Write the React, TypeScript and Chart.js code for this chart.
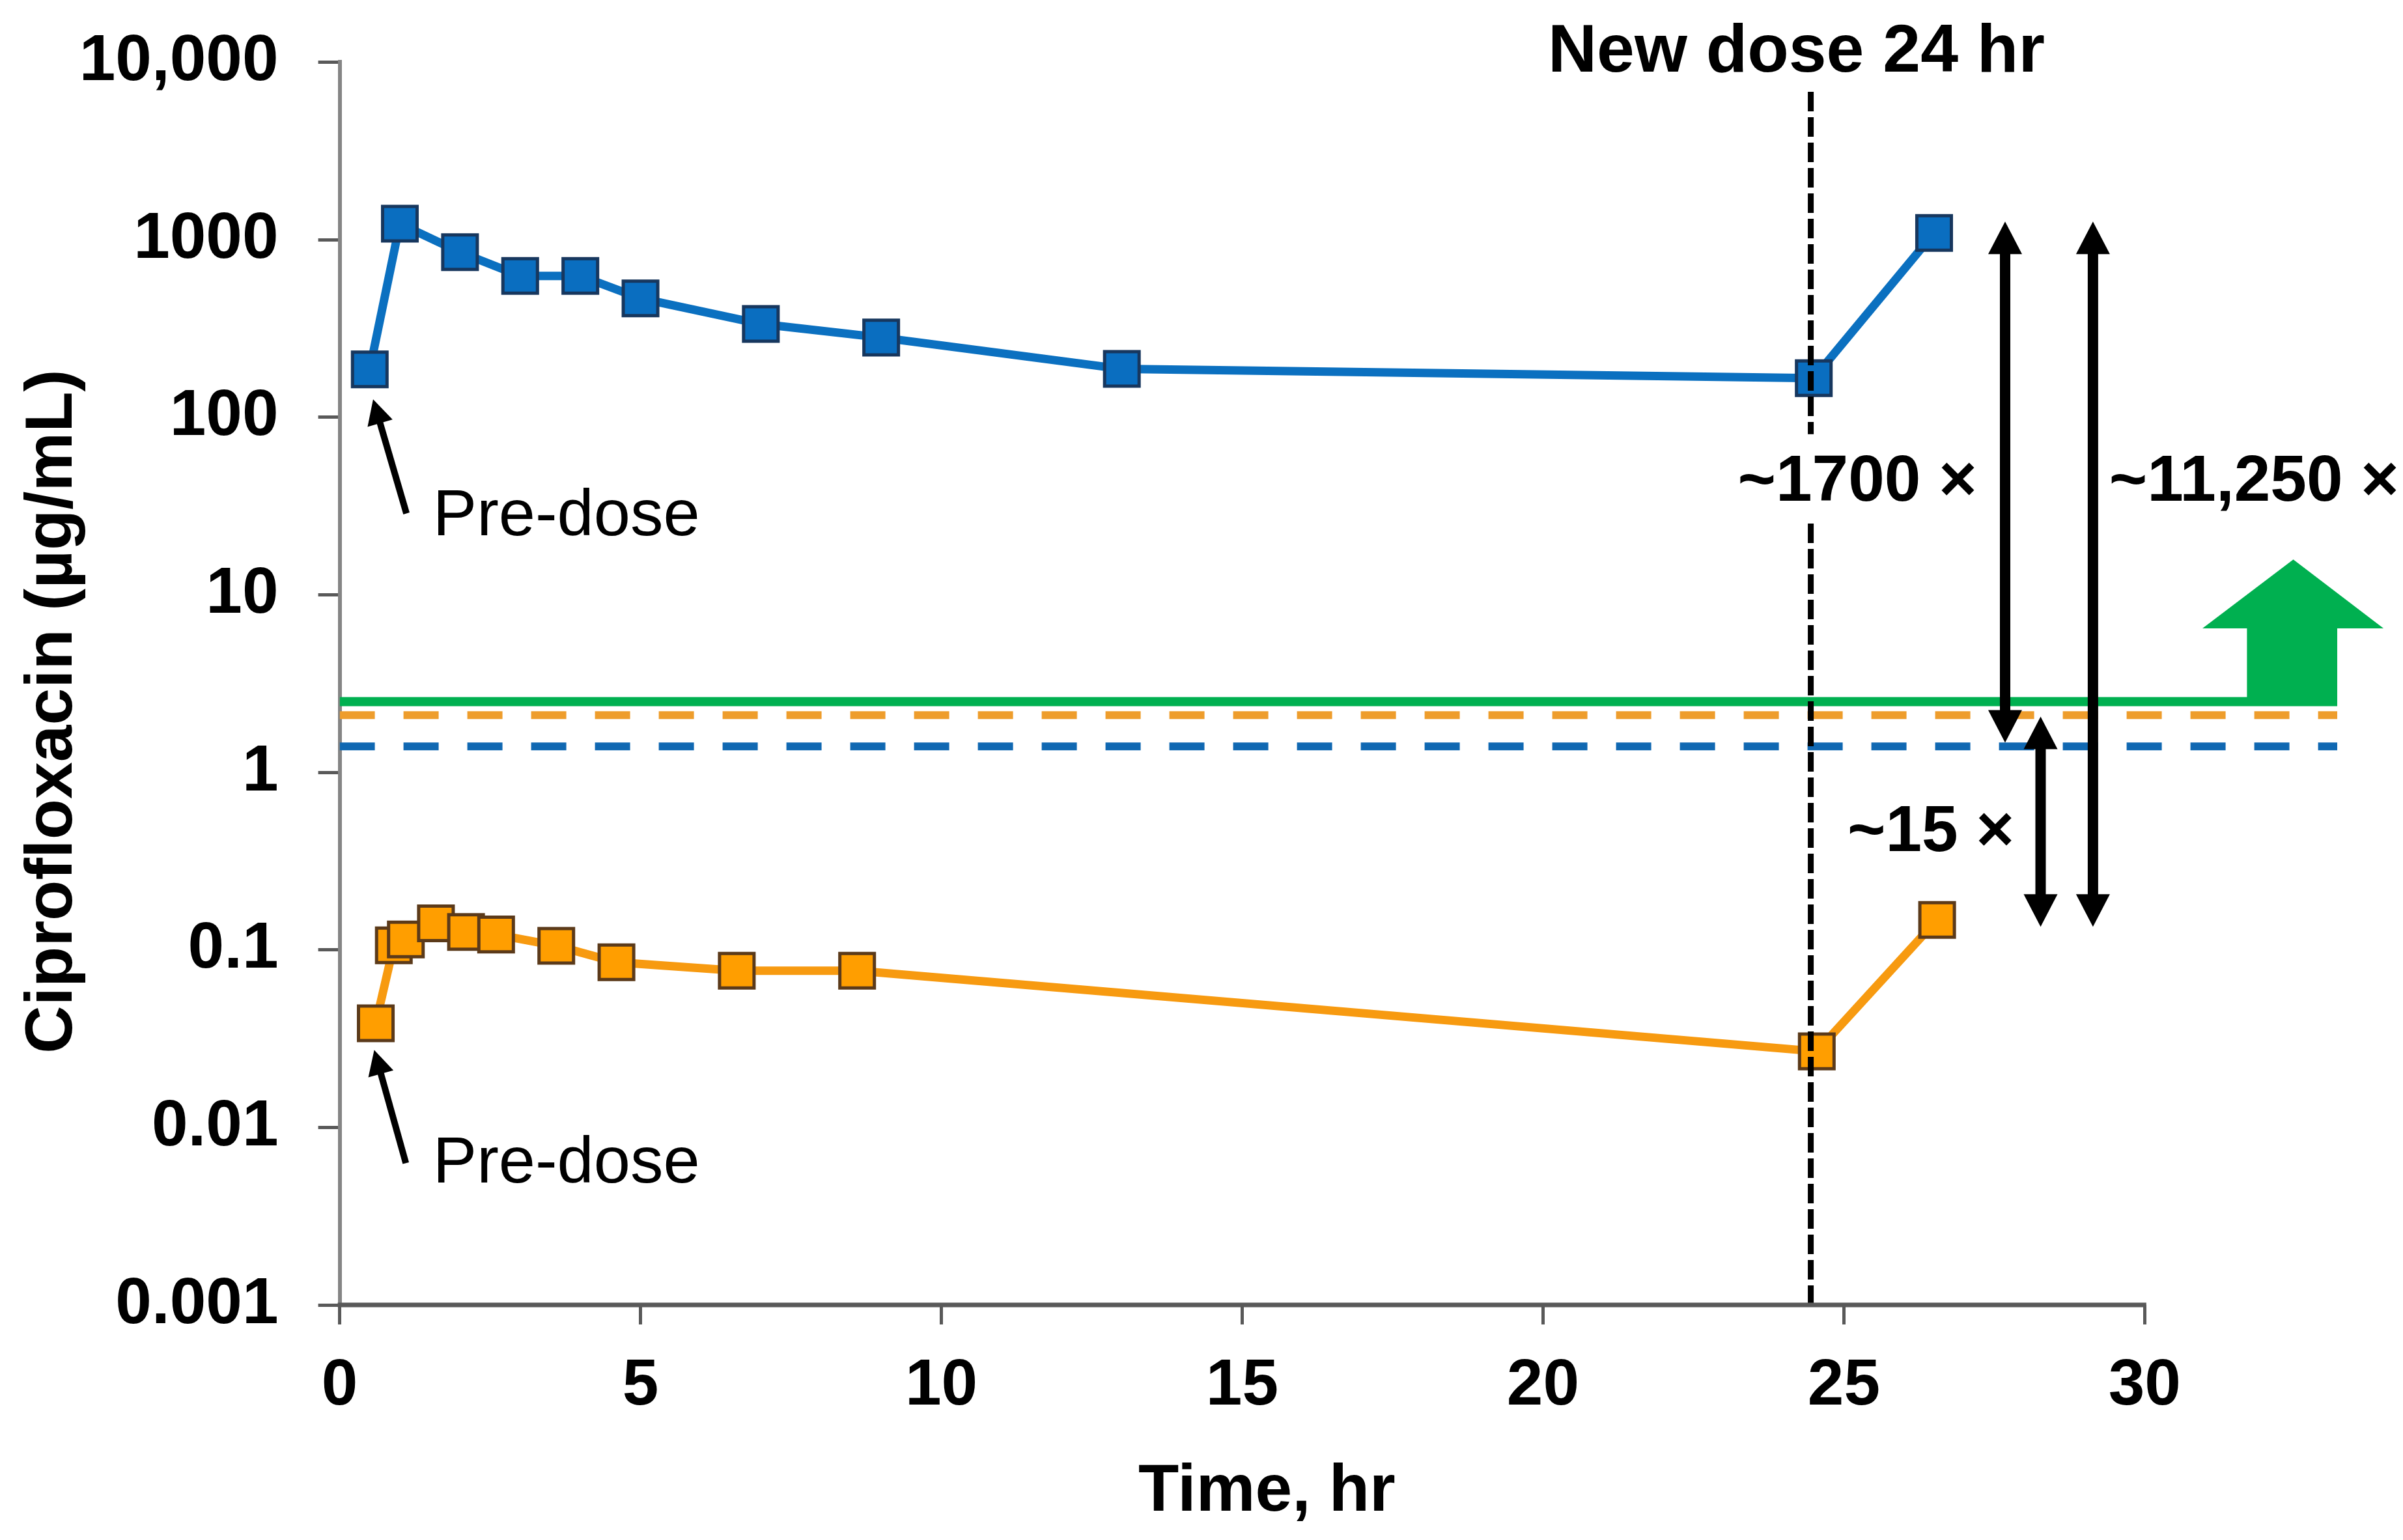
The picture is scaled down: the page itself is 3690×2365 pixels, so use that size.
import React, { useEffect, useRef } from 'react';
import { Chart, registerables } from 'chart.js';

Chart.register(...registerables);

const FONT = '"Liberation Sans", Arial, Helvetica, sans-serif';

// ---- data ----
const blueTime = [0.5, 1, 2, 3, 4, 5, 7, 9, 13, 24.5, 26.5];
const blueConc = [186, 1230, 850, 625, 625, 467, 335, 281, 187, 166, 1090];

const orangeTime = [0.6, 0.9, 1.1, 1.6, 2.1, 2.6, 3.6, 4.6, 6.6, 8.6, 24.55, 26.55];
const orangeConc = [0.0386, 0.106, 0.1145, 0.141, 0.126, 0.122, 0.1054, 0.0851, 0.0763, 0.0763, 0.0268, 0.1475];

const xTicks = [0, 5, 10, 15, 20, 25, 30];
const yTicks = [0.001, 0.01, 0.1, 1, 10, 100, 1000, 10000];
const yTickLabels = ['0.001', '0.01', '0.1', '1', '10', '100', '1000', '10,000'];

const xRange = [0, 33.2];
const yRange = [0.001, 10000];

const greenLevel = 2.5;
const orangeThreshold = 2.1;
const blueThreshold = 1.4;

const newDoseTime = 24.45;
const newDoseTop = 7300;

// fold-difference arrows
const foldArrowX = [27.68, 29.14, 28.27];
const foldArrowTop = [1264, 1264, 2.06];
const foldArrowBottom = [1.47, 0.135, 0.135];
const foldLabels = ['~1700 ×', '~11,250 ×', '~15 ×'];

// green block arrow outline (time, concentration)
const greenArrowX = [31.7, 33.2, 33.2, 33.97, 32.47, 30.96, 31.7];
const greenArrowY = [2.5, 2.5, 6.47, 6.47, 15.8, 6.47, 6.47];

// pre-dose pointer arrows: tail -> tip
const preDoseTailX = [1.11, 1.1];
const preDoseTailY = [28.7, 0.00629];
const preDoseTipX = [0.556, 0.574];
const preDoseTipY = [126, 0.0273];

// text anchors (time, concentration)
const preDoseLabelX = [1.55, 1.55];
const preDoseLabelY = [21.7, 0.0049];
const newDoseLabel = 'New dose 24 hr';
const newDoseLabelX = 24.21;
const newDoseLabelY = 8825;
const foldLabelX = [27.21, 29.41, 27.83];
const foldLabelY = [33.9, 33.9, 0.361];
const foldLabelAlign: CanvasTextAlign[] = ['right', 'left', 'right'];

const xTitle = 'Time, hr';
const yTitle = 'Ciprofloxacin (µg/mL)';

function drawArrowHead(ctx: CanvasRenderingContext2D, x: number, y: number, ang: number, len: number, w: number) {
  ctx.save();
  ctx.translate(x, y);
  ctx.rotate(ang);
  ctx.beginPath();
  ctx.moveTo(0, 0);
  ctx.lineTo(-len, -w / 2);
  ctx.lineTo(-len, w / 2);
  ctx.closePath();
  ctx.fill();
  ctx.restore();
}

const overlayPlugin = {
  id: 'overlay',
  afterDatasetsDraw(chart: any) {
    const ctx: CanvasRenderingContext2D = chart.ctx;
    const xs = chart.scales.x;
    const ys = chart.scales.y;
    const px = (v: number) => xs.getPixelForValue(v);
    const py = (v: number) => ys.getPixelForValue(v);
    const area = chart.chartArea;
    ctx.save();

    // x axis line (0..30)
    ctx.strokeStyle = '#595959';
    ctx.lineWidth = 7;
    ctx.beginPath();
    ctx.moveTo(px(0) - 3, area.bottom);
    ctx.lineTo(px(30) + 2.5, area.bottom);
    ctx.stroke();

    // green block arrow
    ctx.fillStyle = '#00B050';
    ctx.beginPath();
    greenArrowX.forEach((gx, i) => {
      const X = px(gx);
      let Y = py(greenArrowY[i]);
      if (greenArrowY[i] === greenLevel) Y += 6;
      if (i === 0) ctx.moveTo(X, Y);
      else ctx.lineTo(X, Y);
    });
    ctx.closePath();
    ctx.fill();

    // fold arrows (double headed)
    ctx.strokeStyle = '#000';
    ctx.fillStyle = '#000';
    foldArrowX.forEach((fx, i) => {
      const X = px(fx);
      const T = py(foldArrowTop[i]);
      const B = py(foldArrowBottom[i]);
      const head = 50;
      ctx.lineWidth = 16;
      ctx.beginPath();
      ctx.moveTo(X, T + head - 2);
      ctx.lineTo(X, B - head + 2);
      ctx.stroke();
      drawArrowHead(ctx, X, T, -Math.PI / 2, head, 52);
      drawArrowHead(ctx, X, B, Math.PI / 2, head, 52);
    });

    // pre-dose arrows
    preDoseTailX.forEach((tx, i) => {
      const x1 = px(tx), y1 = py(preDoseTailY[i]);
      const x2 = px(preDoseTipX[i]), y2 = py(preDoseTipY[i]);
      const ang = Math.atan2(y2 - y1, x2 - x1);
      const head = 38;
      ctx.lineWidth = 10;
      ctx.beginPath();
      ctx.moveTo(x1, y1);
      ctx.lineTo(x2 - Math.cos(ang) * (head - 4), y2 - Math.sin(ang) * (head - 4));
      ctx.stroke();
      drawArrowHead(ctx, x2, y2, ang, head, 40);
    });

    // texts
    ctx.textBaseline = 'alphabetic';
    ctx.fillStyle = '#000';
    ctx.font = `normal 101px ${FONT}`;
    ctx.textAlign = 'left';
    preDoseLabelX.forEach((lx, i) => {
      ctx.fillText('Pre-dose', px(lx), py(preDoseLabelY[i]));
    });

    ctx.font = `bold 104px ${FONT}`;
    ctx.textAlign = 'center';
    ctx.fillText(newDoseLabel, px(newDoseLabelX), py(newDoseLabelY));

    ctx.font = `bold 100px ${FONT}`;
    foldLabels.forEach((t, i) => {
      const X = px(foldLabelX[i]);
      const Y = py(foldLabelY[i]);
      const w = ctx.measureText(t).width;
      const left = foldLabelAlign[i] === 'right' ? X - w : X;
      ctx.fillStyle = '#fff';
      ctx.fillRect(left - 6, Y - 102, w + 12, 132);
      ctx.fillStyle = '#000';
      ctx.textAlign = foldLabelAlign[i];
      ctx.fillText(t, X, Y);
    });

    // axis titles
    ctx.font = `bold 102px ${FONT}`;
    ctx.textAlign = 'center';
    ctx.fillText(xTitle, px(15.41), area.bottom + 316);

    ctx.save();
    ctx.translate(110, (area.top + area.bottom) / 2 + 43);
    ctx.rotate(-Math.PI / 2);
    ctx.fillText(yTitle, 0, 0);
    ctx.restore();

    ctx.restore();
  },
};

export default function App() {
  const canvasRef = useRef<HTMLCanvasElement | null>(null);

  useEffect(() => {
    const canvas = canvasRef.current;
    if (!canvas) return;

    const pts = (xs: number[], ys: number[]) => xs.map((x, i) => ({ x, y: ys[i] }));

    const chart = new Chart(canvas, {
      type: 'line',
      data: {
        datasets: [
          {
            label: 'New dose',
            data: [
              { x: newDoseTime, y: yRange[0] },
              { x: newDoseTime, y: newDoseTop },
            ],
            borderColor: '#000',
            borderWidth: 9,
            borderDash: [30, 9],
            pointRadius: 0,
            order: 0,
          },
          {
            label: 'Blue',
            data: pts(blueTime, blueConc),
            borderColor: '#0B70C0',
            borderWidth: 13,
            pointStyle: 'rect',
            pointRadius: 37.5,
            pointBackgroundColor: '#0A6EC0',
            pointBorderColor: '#17375E',
            pointBorderWidth: 5,
            order: 1,
          },
          {
            label: 'Orange',
            data: pts(orangeTime, orangeConc),
            borderColor: '#F79A10',
            borderWidth: 13,
            pointStyle: 'rect',
            pointRadius: 37.5,
            pointBackgroundColor: '#FF9E00',
            pointBorderColor: '#5B3A1A',
            pointBorderWidth: 5,
            order: 1,
          },
          {
            label: 'Green level',
            data: [
              { x: xRange[0], y: greenLevel },
              { x: xRange[1], y: greenLevel },
            ],
            borderColor: '#00B050',
            borderWidth: 14,
            pointRadius: 0,
            order: 2,
          },
          {
            label: 'Orange threshold',
            data: [
              { x: xRange[0], y: orangeThreshold },
              { x: xRange[1], y: orangeThreshold },
            ],
            borderColor: '#EE9D2C',
            borderWidth: 12,
            borderDash: [54, 44],
            borderCapStyle: 'butt',
            pointRadius: 0,
            order: 2,
          },
          {
            label: 'Blue threshold',
            data: [
              { x: xRange[0], y: blueThreshold },
              { x: xRange[1], y: blueThreshold },
            ],
            borderColor: '#1068B2',
            borderWidth: 12,
            borderDash: [54, 44],
            borderCapStyle: 'butt',
            pointRadius: 0,
            order: 2,
          },
        ],
      },
      options: {
        animation: false,
        responsive: false,
        devicePixelRatio: 1,
        layout: { padding: { top: 95.4, right: 101, left: 0, bottom: 0 } },
        plugins: {
          legend: { display: false },
          tooltip: { enabled: false },
          title: { display: false },
        },
        scales: {
          x: {
            type: 'linear',
            min: xRange[0],
            max: xRange[1],
            afterBuildTicks: (scale: any) => {
              scale.ticks = xTicks.map((v) => ({ value: v }));
            },
            afterFit: (scale: any) => {
              scale.height = 361;
              scale.paddingLeft = 0;
              scale.paddingRight = 0;
            },
            grid: {
              drawOnChartArea: false,
              drawTicks: true,
              tickLength: 30,
              color: '#595959',
              lineWidth: 5,
            },
            border: { display: false },
            ticks: {
              color: '#000',
              padding: 35,
              maxRotation: 0,
              autoSkip: false,
              font: { family: FONT, size: 100, weight: 'bold' },
              callback: (v: any) => String(v),
            },
          },
          y: {
            type: 'logarithmic',
            min: yRange[0],
            max: yRange[1],
            afterBuildTicks: (scale: any) => {
              scale.ticks = yTicks.map((v) => ({ value: v }));
            },
            afterFit: (scale: any) => {
              scale.width = 521.6;
              scale.paddingTop = 0;
              scale.paddingBottom = 0;
            },
            grid: {
              drawOnChartArea: false,
              drawTicks: true,
              tickLength: 33,
              color: '#595959',
              lineWidth: 5,
            },
            border: { display: true, color: '#858585', width: 6 },
            ticks: {
              color: '#000',
              padding: 61,
              autoSkip: false,
              font: { family: FONT, size: 100, weight: 'bold' },
              callback: (_v: any, i: number) => yTickLabels[i],
            },
          },
        },
      },
      plugins: [overlayPlugin],
    } as any);

    return () => chart.destroy();
  }, []);

  return (
    <div style={{ position: 'fixed', left: 0, top: 0, width: 3690, height: 2365, background: '#fff' }}>
      <canvas ref={canvasRef} width={3690} height={2365} style={{ width: 3690, height: 2365, display: 'block' }} />
    </div>
  );
}
